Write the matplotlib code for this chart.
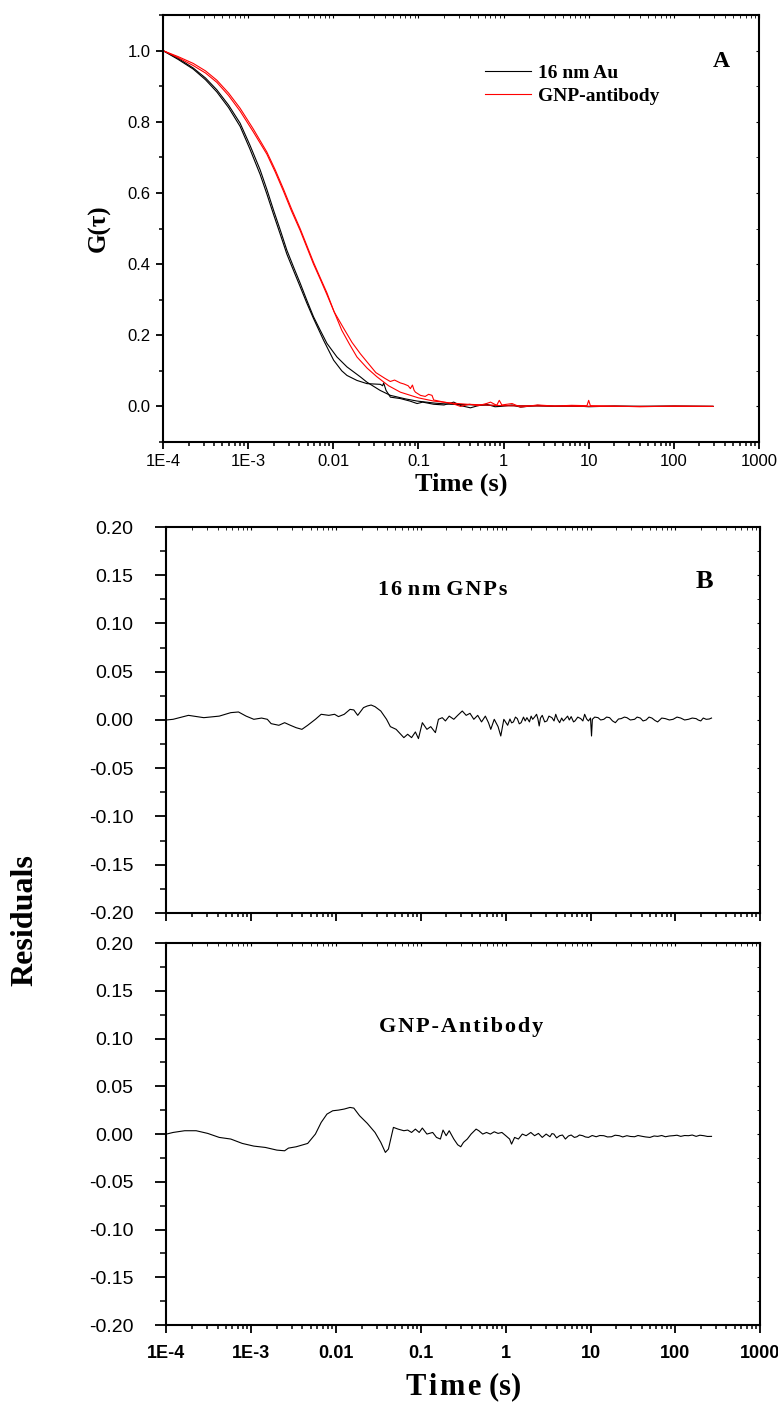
import numpy as np
import matplotlib.pyplot as plt
from matplotlib.ticker import MultipleLocator, LogLocator, NullFormatter

# ---- data (x given as log10 of time in s) ----
# panel A: normalised correlation curves
au_fit_logt = [-4.0, -3.82, -3.644, -3.5, -3.368, -3.23, -3.094, -2.98, -2.859, -2.78,
               -2.702, -2.62, -2.545, -2.46, -2.388, -2.31, -2.232, -2.153, -2.074, -1.957,
               -1.839, -1.682, -1.604, -1.45, -1.329, -1.15, -1.015, -0.8, -0.624, 0.0, 1.0, 2.46]
au_fit_g = [1.0, 0.978, 0.951, 0.923, 0.890, 0.847, 0.796, 0.735, 0.665, 0.610,
            0.552, 0.494, 0.439, 0.388, 0.346, 0.298, 0.252, 0.214, 0.177, 0.139,
            0.111, 0.083, 0.068, 0.045, 0.031, 0.021, 0.015, 0.009, 0.006, 0.002, 0.0, 0.0]

au_data_logt = [-4.0, -3.82, -3.644, -3.5, -3.368, -3.23, -3.094, -2.98, -2.859, -2.78,
                -2.702, -2.62, -2.545, -2.46, -2.388, -2.31, -2.232, -2.114, -1.996, -1.9,
                -1.839, -1.722, -1.604, -1.447, -1.42, -1.408, -1.38, -1.329, -1.212, -1.1,
                -1.015, -0.95, -0.82, -0.7, -0.585, -0.5, -0.388, -0.3, -0.2, -0.1,
                -0.035, 0.1, 0.2, 0.4, 0.6, 0.8, 1.0, 1.3, 1.6, 2.0, 2.46]
au_data_g = [1.0, 0.975, 0.948, 0.918, 0.884, 0.840, 0.787, 0.724, 0.652, 0.597,
             0.540, 0.482, 0.428, 0.378, 0.336, 0.290, 0.247, 0.186, 0.130, 0.100,
             0.087, 0.073, 0.064, 0.062, 0.058, 0.066, 0.045, 0.026, 0.022, 0.015,
             0.008, 0.012, 0.006, 0.004, 0.012, 0.002, -0.004, 0.002, 0.006, -0.001,
             0.0, 0.004, -0.002, 0.003, 0.0, 0.002, -0.001, 0.001, 0.0, 0.001, 0.0]

ab_fit_logt = [-4.0, -3.82, -3.644, -3.5, -3.368, -3.23, -3.094, -2.94, -2.78, -2.68,
               -2.585, -2.49, -2.388, -2.31, -2.232, -2.15, -2.074, -1.99, -1.9, -1.81,
               -1.722, -1.6, -1.486, -1.35, -1.212, -1.0, -0.82, -0.6, -0.427, 0.0, 1.0, 2.46]
ab_fit_g = [1.0, 0.983, 0.964, 0.943, 0.917, 0.881, 0.838, 0.780, 0.715, 0.664,
            0.611, 0.555, 0.499, 0.452, 0.405, 0.360, 0.319, 0.266, 0.214, 0.175,
            0.139, 0.107, 0.083, 0.058, 0.040, 0.024, 0.015, 0.009, 0.006, 0.002, 0.0, 0.0]

ab_data_logt = [-4.0, -3.82, -3.644, -3.5, -3.368, -3.23, -3.094, -2.94, -2.78, -2.68,
                -2.585, -2.49, -2.388, -2.31, -2.232, -2.15, -2.074, -1.99, -1.879, -1.78,
                -1.682, -1.5, -1.388, -1.33, -1.28, -1.212, -1.17, -1.12, -1.094, -1.07,
                -1.05, -1.035, -0.976, -0.92, -0.88, -0.84, -0.82, -0.7, -0.6, -0.506,
                -0.4, -0.3, -0.2, -0.153, -0.08, -0.05, -0.02, 0.1, 0.2, 0.4,
                0.6, 0.8, 0.98, 1.0, 1.02, 1.3, 1.6, 2.0, 2.46]
ab_data_g = [1.0, 0.980, 0.958, 0.937, 0.911, 0.874, 0.830, 0.772, 0.709, 0.658,
             0.605, 0.549, 0.494, 0.447, 0.400, 0.356, 0.314, 0.266, 0.220, 0.180,
             0.148, 0.095, 0.078, 0.070, 0.074, 0.066, 0.063, 0.058, 0.050, 0.060,
             0.045, 0.040, 0.031, 0.028, 0.034, 0.031, 0.018, 0.012, 0.008, 0.0,
             0.006, 0.002, 0.008, 0.012, 0.003, 0.017, 0.004, 0.008, -0.002, 0.004,
             0.001, 0.003, 0.002, 0.017, 0.002, 0.001, -0.001, 0.001, 0.0]

# panel B: fit residuals
res_au_logt = [-4.0, -3.922, -3.741, -3.560, -3.378, -3.242, -3.151, -3.061, -2.970, -2.879,
               -2.811, -2.766, -2.675, -2.607, -2.539, -2.471, -2.403, -2.335, -2.244, -2.176,
               -2.086, -2.018, -1.972, -1.904, -1.836, -1.791, -1.745, -1.677, -1.632, -1.587,
               -1.541, -1.473, -1.405, -1.360, -1.292, -1.201, -1.156, -1.110, -1.065, -1.029,
               -0.983, -0.929, -0.884, -0.829, -0.793, -0.748, -0.711, -0.666, -0.612, -0.566,
               -0.512, -0.466, -0.421, -0.376, -0.330, -0.285, -0.240, -0.203, -0.176, -0.135,
               -0.090, -0.058, -0.022, 0.023, 0.05, 0.07, 0.091, 0.115, 0.137, 0.16,
               0.182, 0.21, 0.23, 0.25, 0.28, 0.30, 0.318, 0.34, 0.364, 0.38,
               0.395, 0.41, 0.431, 0.46, 0.486, 0.51, 0.545, 0.57, 0.59, 0.61,
               0.636, 0.66, 0.68, 0.704, 0.73, 0.75, 0.772, 0.80, 0.817, 0.85,
               0.885, 0.91, 0.931, 0.955, 0.976, 1.000, 1.012, 1.022, 1.05, 1.089,
               1.12, 1.157, 1.19, 1.225, 1.26, 1.293, 1.33, 1.361, 1.40, 1.429,
               1.47, 1.52, 1.55, 1.588, 1.62, 1.656, 1.69, 1.724, 1.76, 1.792,
               1.84, 1.883, 1.93, 1.974, 2.02, 2.064, 2.11, 2.155, 2.20, 2.246,
               2.27, 2.300, 2.33, 2.364, 2.40, 2.427]
res_au = [0.0, 0.0007, 0.0048, 0.0024, 0.004, 0.0076, 0.0083, 0.004, 0.0007, 0.002,
          0.0007, -0.0038, -0.0055, -0.0028, -0.0055, -0.008, -0.0097, -0.0055, 0.0007, 0.0059,
          0.0048, 0.0059, 0.0035, 0.0059, 0.011, 0.0104, 0.0048, 0.0128, 0.0145, 0.0155,
          0.0138, 0.0093, 0.0007, -0.0069, -0.0097, -0.0183, -0.0148, -0.0183, -0.0124, -0.0193,
          -0.0028, -0.0097, -0.0069, -0.0131, 0.0007, 0.0024, -0.001, 0.004, 0.0007, 0.0048,
          0.0093, 0.0048, 0.0069, 0.0007, 0.0048, -0.002, 0.004, -0.0028, -0.0097, 0.0007,
          -0.0069, -0.0166, 0.0007, -0.0055, 0.001, -0.003, -0.002, 0.003, 0.0014, -0.004,
          -0.0028, 0.003, -0.001, 0.0024, -0.002, 0.004, 0.0007, 0.003, 0.0059, 0.001,
          -0.0062, 0.002, 0.0048, -0.002, -0.001, 0.004, 0.0024, -0.001, 0.0059, 0.001,
          -0.0028, 0.002, -0.001, 0.0014, 0.004, 0.0, 0.0035, -0.002, -0.001, 0.003,
          0.0014, -0.001, 0.0059, 0.001, -0.001, 0.002, -0.0166, 0.0007, 0.003, 0.0024,
          0.0, 0.0007, 0.003, 0.0024, -0.001, -0.0028, 0.001, 0.0014, 0.003, 0.0024,
          0.0, 0.0007, 0.003, 0.002, -0.001, 0.0, 0.003, 0.002, -0.0005, -0.002,
          0.002, 0.0014, 0.0, 0.0007, 0.003, 0.002, 0.0, 0.0007, 0.002, 0.0014,
          0.0, -0.001, 0.002, 0.0007, 0.001, 0.002]

res_ab_logt = [-4.0, -3.922, -3.786, -3.650, -3.514, -3.378, -3.242, -3.106, -2.970, -2.834,
               -2.698, -2.607, -2.562, -2.471, -2.335, -2.244, -2.176, -2.108, -2.040, -1.972,
               -1.904, -1.836, -1.791, -1.723, -1.632, -1.541, -1.473, -1.419, -1.383, -1.324,
               -1.269, -1.201, -1.156, -1.110, -1.065, -1.020, -0.983, -0.929, -0.861, -0.816,
               -0.770, -0.739, -0.702, -0.666, -0.612, -0.566, -0.530, -0.498, -0.453, -0.408,
               -0.349, -0.317, -0.271, -0.226, -0.181, -0.135, -0.090, -0.045, 0.001, 0.046,
               0.069, 0.105, 0.150, 0.196, 0.241, 0.296, 0.341, 0.386, 0.431, 0.477,
               0.522, 0.545, 0.568, 0.60, 0.636, 0.67, 0.704, 0.74, 0.772, 0.81,
               0.840, 0.87, 0.908, 0.94, 0.976, 1.02, 1.067, 1.11, 1.157, 1.20,
               1.248, 1.29, 1.339, 1.38, 1.429, 1.47, 1.520, 1.56, 1.611, 1.65,
               1.701, 1.75, 1.792, 1.84, 1.883, 1.93, 1.974, 2.02, 2.064, 2.11,
               2.155, 2.20, 2.246, 2.29, 2.336, 2.38, 2.427]
res_ab = [0.0, 0.0017, 0.0035, 0.0035, 0.0007, -0.0035, -0.0052, -0.0098, -0.0126, -0.014,
          -0.0168, -0.0175, -0.0147, -0.0133, -0.0098, 0.0, 0.0122, 0.0209, 0.0244, 0.0251,
          0.0262, 0.0279, 0.0272, 0.0192, 0.0112, 0.0017, -0.0087, -0.0192, -0.0157, 0.007,
          0.0052, 0.0035, 0.0042, 0.0017, 0.0052, 0.0017, 0.0063, 0.0, 0.0017, -0.0035,
          -0.0052, 0.0042, -0.0017, 0.0035, -0.0052, -0.0112, -0.0133, -0.0087, -0.0052, 0.0,
          0.0052, 0.0035, 0.0, 0.0017, 0.0, 0.0024, 0.0007, 0.0017, -0.0017, -0.0052,
          -0.0105, -0.0035, -0.0052, 0.0, -0.0017, 0.0017, -0.0017, 0.0007, -0.0035, 0.0,
          -0.0028, 0.0005, 0.0, -0.004, -0.0017, -0.001, -0.0052, -0.002, -0.001, -0.0035,
          -0.0028, -0.001, -0.0017, -0.003, -0.0035, -0.0015, -0.0028, -0.0015, -0.0017, -0.003,
          -0.0028, -0.0012, -0.0017, -0.003, -0.0017, -0.0025, -0.0028, -0.0015, -0.0024, -0.003,
          -0.0035, -0.002, -0.0024, -0.0015, -0.0028, -0.002, -0.0017, -0.0012, -0.0024, -0.0015,
          -0.0017, -0.001, -0.0024, -0.0012, -0.0017, -0.0025, -0.0024]

xticks = [1e-4, 1e-3, 1e-2, 1e-1, 1, 10, 100, 1000]
xticklabels = ['1E-4', '1E-3', '0.01', '0.1', '1', '10', '100', '1000']

narrow = ['Liberation Sans', 'DejaVu Sans']
serif = ['Liberation Serif', 'DejaVu Serif']
HS = '\u200a'


def spaced(s):
    return HS.join(s)


def frame(ax, ymaj, ymin, ylo, yhi):
    ax.set_xscale('log')
    ax.set_xlim(1e-4, 1000)
    ax.set_ylim(ylo, yhi)
    ax.set_xticks(xticks)
    ax.xaxis.set_minor_locator(LogLocator(base=10, subs=np.arange(2, 10), numticks=20))
    ax.xaxis.set_minor_formatter(NullFormatter())
    ax.yaxis.set_major_locator(MultipleLocator(ymaj))
    ax.yaxis.set_minor_locator(MultipleLocator(ymin))
    for s in ax.spines.values():
        s.set_linewidth(1.5)
    ax.tick_params(which='major', direction='out', length=5, width=1.3)
    ax.tick_params(which='minor', direction='out', length=3, width=1.1)
    # small inward ticks mirrored on top and right
    sx = ax.secondary_xaxis('top')
    sx.set_xticks(xticks)
    sx.xaxis.set_minor_locator(LogLocator(base=10, subs=np.arange(2, 10), numticks=20))
    sx.tick_params(which='both', direction='in', length=2, labeltop=False)
    sx.xaxis.set_minor_formatter(NullFormatter())
    sy = ax.secondary_yaxis('right')
    sy.yaxis.set_major_locator(MultipleLocator(ymaj))
    sy.yaxis.set_minor_locator(MultipleLocator(ymin))
    sy.tick_params(which='both', direction='in', length=2, labelright=False)
    for s in list(sx.spines.values()) + list(sy.spines.values()):
        s.set_visible(False)


fig = plt.figure(figsize=(7.78, 14.08), dpi=100)

# ---- panel A ----
axA = fig.add_axes([0.2095, 0.6861, 0.766, 0.3032])
axA.plot(10 ** np.array(au_data_logt), au_data_g, color='black', lw=0.8, label='16 nm Au')
axA.plot(10 ** np.array(au_fit_logt), au_fit_g, color='black', lw=0.8)
axA.plot(10 ** np.array(ab_data_logt), ab_data_g, color='red', lw=0.8, label='GNP-antibody')
axA.plot(10 ** np.array(ab_fit_logt), ab_fit_g, color='red', lw=0.8)
frame(axA, 0.2, 0.1, -0.1, 1.1)
axA.set_xticklabels(xticklabels, family=narrow, fontsize=12)
axA.set_yticks([0.0, 0.2, 0.4, 0.6, 0.8, 1.0])
axA.set_yticklabels(['0.0', '0.2', '0.4', '0.6', '0.8', '1.0'], family=narrow, fontsize=12)
axA.tick_params(axis='both', pad=4)
axA.set_xlabel('Time (s)', family=serif, fontweight='bold', fontsize=19, labelpad=2)
axA.set_ylabel('G(\u03c4)', family=serif, fontweight='bold', fontsize=18, labelpad=12)
axA.text(0.936, 0.892, 'A', transform=axA.transAxes, family=serif, fontweight='bold',
         fontsize=17, ha='center', va='center')
axA.legend(loc='upper left', bbox_to_anchor=(0.54, 0.885), frameon=False, borderpad=0,
           borderaxespad=0, handlelength=2.4, handletextpad=0.35, labelspacing=0.3,
           prop={'family': serif, 'weight': 'bold', 'size': 14})

# ---- panel B ----
axB1 = fig.add_axes([0.214, 0.3516, 0.763, 0.2741])
axB2 = fig.add_axes([0.214, 0.0589, 0.763, 0.2713])
axB1.plot(10 ** np.array(res_au_logt), res_au, color='black', lw=0.8)
axB2.plot(10 ** np.array(res_ab_logt), res_ab, color='black', lw=0.8)
res_ticks = [-0.20, -0.15, -0.10, -0.05, 0.00, 0.05, 0.10, 0.15, 0.20]
res_labels = ['-0.20', '-0.15', '-0.10', '-0.05', '0.00', '0.05', '0.10', '0.15', '0.20']
for ax in (axB1, axB2):
    frame(ax, 0.05, 0.025, -0.20, 0.20)
    ax.set_yticks(res_ticks)
    ax.set_yticklabels(res_labels, family=narrow, fontsize=14)
    ax.tick_params(axis='y', which='major', length=8, pad=16)
    ax.tick_params(axis='y', which='minor', length=4)
    ax.tick_params(axis='x', which='major', length=6)
axB1.set_xticklabels([])
axB2.set_xticklabels(xticklabels, family=narrow, fontsize=13, fontweight='bold')
axB2.tick_params(axis='x', pad=8)
axB2.set_xlabel(spaced('Time') + ' (s)', family=serif, fontweight='bold', fontsize=22, labelpad=8)

axB1.text(0.466, 0.837, spaced('16') + ' ' + spaced('nm') + ' ' + spaced('GNPs'),
          transform=axB1.transAxes, family=serif, fontweight='bold', fontsize=16,
          ha='center', va='center')
axB1.text(0.907, 0.858, 'B', transform=axB1.transAxes, family=serif, fontweight='bold',
          fontsize=19, ha='center', va='center')
axB2.text(0.496, 0.780, spaced('GNP-Antibody'), transform=axB2.transAxes, family=serif,
          fontweight='bold', fontsize=16, ha='center', va='center')

fig.text(0.032, 0.3466, 'Residuals', rotation=90, family=serif, fontweight='bold',
         fontsize=23, ha='center', va='center')

fig.savefig('out.png', dpi=100)
